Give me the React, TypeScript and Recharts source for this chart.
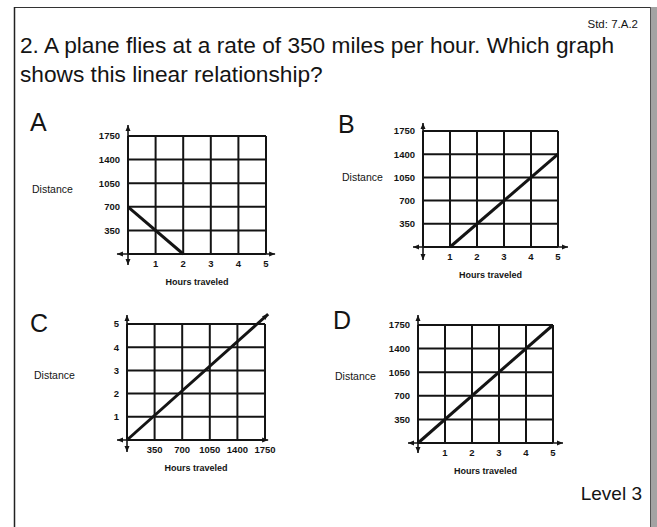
import React from 'react';
import { LineChart, Line, XAxis, YAxis, CartesianGrid, ReferenceLine } from 'recharts';

// tick values shared by the four small graphs
const hourTicks = [1, 2, 3, 4, 5];
const distanceTicks = [350, 700, 1050, 1400, 1750];

// the plotted line of each answer choice
const graphA = [{ x: 0, y: 700 }, { x: 2, y: 0 }];
const graphB = [{ x: 1, y: 0 }, { x: 5, y: 1400 }];
const graphC = [{ x: 0, y: 0 }, { x: 1650, y: 5 }];
const graphCArrowTip = { x: 1790, y: 5.43 };
const graphD = [{ x: 0, y: 0 }, { x: 5, y: 1750 }];

const INK = '#141414';
const FONT = '"Liberation Sans", Arial, sans-serif';

const headPoints = (tx: number, ty: number, fx: number, fy: number) => {
  const dx = tx - fx;
  const dy = ty - fy;
  const len = Math.hypot(dx, dy) || 1;
  const ux = dx / len;
  const uy = dy / len;
  const L = 6;
  const W = 2.5;
  const bx = tx - ux * L;
  const by = ty - uy * L;
  return `${tx},${ty} ${bx - uy * W},${by + ux * W} ${bx + uy * W},${by - ux * W}`;
};

const ArrowLine = (props: any) => {
  const { x1, y1, x2, y2, both, width = 1.6 } = props;
  return (
    <g>
      <line x1={x1} y1={y1} x2={x2} y2={y2} stroke={INK} strokeWidth={width} />
      <polygon points={headPoints(x2, y2, x1, y1)} fill={INK} />
      {both && <polygon points={headPoints(x1, y1, x2, y2)} fill={INK} />}
    </g>
  );
};

interface PanelProps {
  data: Array<{ x: number; y: number }>;
  plot: { x: number; y: number; w: number; h: number };
  xDomain: [number, number];
  yDomain: [number, number];
  xTicks: number[];
  yTicks: number[];
  xExt: [number, number];
  yExt: [number, number];
  tip?: { x: number; y: number };
}

const ML = 40;
const MT = 16;
const MR = 24;
const XH = 20;
const MB = 22;

const Panel: React.FC<PanelProps> = ({ data, plot, xDomain, yDomain, xTicks, yTicks, xExt, yExt, tip }) => {
  const last = data[data.length - 1];
  const tickStyle = { fontSize: 9.5, fontWeight: 700, fill: INK, fontFamily: FONT };
  return (
    <div style={{ position: 'absolute', left: plot.x - ML, top: plot.y - MT }}>
      <LineChart
        width={ML + plot.w + MR}
        height={MT + plot.h + XH + MB}
        data={data}
        margin={{ top: MT, right: MR, bottom: MB, left: ML - 30 }}
      >
        <CartesianGrid stroke={INK} strokeWidth={2} />
        <XAxis
          type="number"
          dataKey="x"
          domain={xDomain}
          ticks={xTicks}
          interval={0}
          height={XH}
          axisLine={false}
          tickLine={false}
          tickSize={0}
          tickMargin={6}
          tick={tickStyle}
          label={{ value: 'Hours traveled', position: 'bottom', offset: 5, fontSize: 9, fontWeight: 700, fill: INK, fontFamily: FONT }}
        />
        <YAxis
          type="number"
          dataKey="y"
          domain={yDomain}
          ticks={yTicks}
          interval={0}
          width={30}
          axisLine={false}
          tickLine={false}
          tickSize={0}
          tickMargin={8}
          tick={tickStyle}
        />
        <ReferenceLine
          segment={[{ x: xExt[0], y: 0 }, { x: xExt[1], y: 0 }]}
          ifOverflow="visible"
          shape={(p: any) => <ArrowLine {...p} both />}
        />
        <ReferenceLine
          segment={[{ x: 0, y: yExt[0] }, { x: 0, y: yExt[1] }]}
          ifOverflow="visible"
          shape={(p: any) => <ArrowLine {...p} both />}
        />
        <Line
          type="linear"
          dataKey="y"
          stroke={INK}
          strokeWidth={3}
          dot={false}
          isAnimationActive={false}
        />
        {tip && (
          <ReferenceLine
            segment={[{ x: last.x, y: last.y }, tip]}
            ifOverflow="visible"
            shape={(p: any) => <ArrowLine {...p} width={3} />}
          />
        )}
      </LineChart>
    </div>
  );
};

export default function App() {
  return (
    <div
      style={{
        position: 'absolute',
        left: 0,
        top: 0,
        width: 657,
        height: 527,
        overflow: 'hidden',
        background: '#fff',
        fontFamily: FONT,
      }}
    >
      <svg width={657} height={527} style={{ position: 'absolute', left: 0, top: 0 }}>
        <line x1={14} y1={7.5} x2={650} y2={7.5} stroke="#333" strokeWidth={1.2} />
        <line x1={14.5} y1={7} x2={14.5} y2={527} stroke="#222" strokeWidth={1.5} />
        <rect x={650} y={7} width={7} height={520} fill="#a3a3a3" />
        <line x1={650.5} y1={7} x2={650.5} y2={527} stroke="#555" strokeWidth={1} />

        <text x={638} y={28} fontSize={11.5} textAnchor="end" fill={INK}>Std: 7.A.2</text>
        <text x={20} y={52.5} fontSize={22.7} fill={INK}>
          2. A plane flies at a rate of 350 miles per hour. Which graph
        </text>
        <text x={20} y={82} fontSize={22.7} fill={INK}>shows this linear relationship?</text>

        <text x={30} y={131} fontSize={25} fill={INK}>A</text>
        <text x={338} y={133} fontSize={25} fill={INK}>B</text>
        <text x={30} y={332} fontSize={25} fill={INK}>C</text>
        <text x={333} y={329} fontSize={25} fill={INK}>D</text>

        <text x={32} y={193} fontSize={10.5} fill={INK}>Distance</text>
        <text x={342} y={181} fontSize={10.5} fill={INK}>Distance</text>
        <text x={34} y={379} fontSize={10.5} fill={INK}>Distance</text>
        <text x={335} y={380} fontSize={10.5} fill={INK}>Distance</text>

        <text x={642} y={500} fontSize={19} textAnchor="end" fill={INK}>Level 3</text>
      </svg>

      <Panel
        data={graphA}
        plot={{ x: 128, y: 136, w: 138, h: 118 }}
        xDomain={[0, 5]}
        yDomain={[0, 1750]}
        xTicks={hourTicks}
        yTicks={distanceTicks}
        xExt={[-0.4, 5.33]}
        yExt={[-163, 1913]}
      />
      <Panel
        data={graphB}
        plot={{ x: 423, y: 131, w: 135, h: 116 }}
        xDomain={[0, 5]}
        yDomain={[0, 1750]}
        xTicks={hourTicks}
        yTicks={distanceTicks}
        xExt={[-0.37, 5.37]}
        yExt={[-196, 1871]}
      />
      <Panel
        data={graphC}
        plot={{ x: 127, y: 324, w: 138, h: 116 }}
        xDomain={[0, 1750]}
        yDomain={[0, 5]}
        xTicks={distanceTicks}
        yTicks={hourTicks}
        xExt={[-127, 1790]}
        yExt={[-0.52, 5.39]}
        tip={graphCArrowTip}
      />
      <Panel
        data={graphD}
        plot={{ x: 418, y: 325, w: 135, h: 118 }}
        xDomain={[0, 5]}
        yDomain={[0, 1750]}
        xTicks={hourTicks}
        yTicks={distanceTicks}
        xExt={[-0.37, 5.37]}
        yExt={[-148, 1898]}
      />
    </div>
  );
}
